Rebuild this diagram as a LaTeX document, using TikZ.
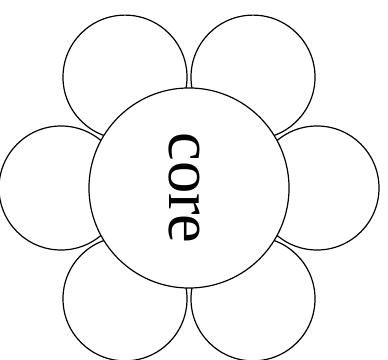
\documentclass[tikz,border=0pt]{standalone}
\usepackage{fontspec}
\setmainfont{Liberation Serif}
\begin{document}
\begin{tikzpicture}[
        x=0.025cm,y=0.025cm,
        petal/.style={circle,minimum size=3.1cm,inner sep=0pt,
          draw=black,fill=white,line width=.85pt},
        core/.style={circle,minimum size=5cm,inner sep=0pt,
          draw=black,fill=white,line width=.85pt}
      ]
        \useasboundingbox (0,0) rectangle (388,360);
        \coordinate (mid) at (189,172);

        % petals first, the core covers them
        \foreach \a in {0,60,120,180,240,300}{
          \node[petal] (petal\a) at ([shift={(\a:128)}]mid) {};
        }
        \node[core] (core) at (mid) {};
        \node[rotate=-90,inner sep=0pt,font=\fontsize{46}{50}\selectfont]
          (label) at (184.5,172) {core};
      \end{tikzpicture}
\end{document}
